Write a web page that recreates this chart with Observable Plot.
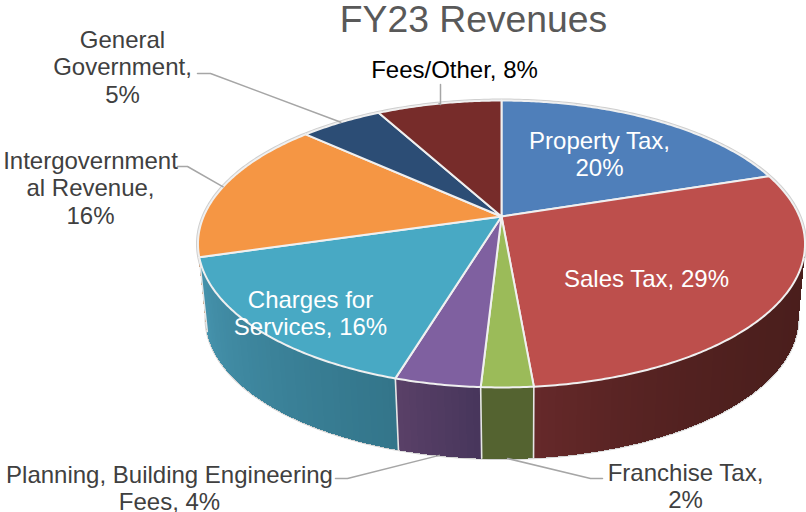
<!DOCTYPE html>
<html>
<head>
<meta charset="utf-8">
<style>html,body{margin:0;padding:0;background:#fff}svg{display:block}</style>
<script src="https://cdn.jsdelivr.net/npm/d3@7"></script>
<script src="https://cdn.jsdelivr.net/npm/@observablehq/plot@0.6"></script>
</head>
<body>
<script>
const categories = ["Property Tax","Sales Tax","Franchise Tax","Planning, Building Engineering Fees","Charges for Services","Intergovernmental Revenue","General Government","Fees/Other"];
const values = [20, 28.6, 2.3, 3.8, 15.8, 16.2, 5.3, 8];
const topColors = ["#4f7fba","#bd4f4c","#9bbb59","#7f60a0","#48a9c4","#f59644","#2c4d75","#772c2a"];
const sideStart = ["#34506f","#4a1e1c","#546330","#47365b","#33758a","#a8632c","#1c3350","#4e1c1a"];
const sideEnd = ["#34506f","#66292a","#546330","#5a4068","#4694ae","#a8632c","#1c3350","#4e1c1a"];
const sideEase = [1,4,1,1,1,1,1,1];
const labels = ["Property Tax,\n20%","Sales Tax, 29%","Franchise Tax,\n2%","Planning, Building Engineering\nFees, 4%","Charges for\nServices, 16%","Intergovernment\nal Revenue,\n16%","General\nGovernment,\n5%","Fees/Other, 8%"];
const labelX = [599,646,685,169,310,90,122,454];
const labelY = [153,278,485,487,312,187,66,69];
const labelColors = ["#fff","#fff","#404040","#404040","#fff","#404040","#404040","#000"];
const leaderElbowX = [null,null,590,347,null,187,210,440];
const leaderElbowY = [null,null,478,478,null,166,73,104];
const leaderEndX = [null,null,602,335,null,177,197,440];
const leaderEndY = [null,null,478,478,null,166,73,84];
const leaderOnBase = [false,false,true,true,false,false,false,false];

const W = 806, H = 512;
const total = d3.sum(values);
const p = 0.1916;
const topDisk = {cx:501, cy:216, a:297.9, b:138.2};
const baseDisk = {cx:501.5, cy:291.3, a:290.5, b:134.8};
const project = (disk, t) => {
  const u = Math.sin(t), v = -Math.cos(t), k = 1 - p * v;
  return [disk.cx + disk.a * u / k, disk.cy + disk.b * v / k];
};
const pct = t => t / total * 2 * Math.PI;
const cum = d3.cumsum(values);
const slices = values.map((v, i) => ({i, t0: pct(i ? cum[i-1] : 0), t1: pct(cum[i])}));

const ringT = d3.range(0, 361).map(d => d * Math.PI / 180);
const rows = (id, pts, extra) => pts.map(([x, y]) => ({id, x, y, ...extra}));

const topHalo = rows("halo", ringT.map(t => project(topDisk, t)), {});
const baseHalo = rows("baseHalo", ringT.filter(t => Math.cos(t) < 0.25).map(t => project(baseDisk, t)), {});

const strips = [];
slices.forEach(s => {
  const n = Math.max(1, Math.ceil((s.t1 - s.t0) / 0.02));
  d3.range(n).forEach(j => {
    const a = s.t0 + (s.t1 - s.t0) * j / n, b = s.t0 + (s.t1 - s.t0) * (j + 1) / n;
    const color = d3.interpolateRgb(sideStart[s.i], sideEnd[s.i])(Math.pow((j + 0.5) / n, sideEase[s.i]));
    strips.push({depth: -Math.cos((a + b) / 2), id: `s${s.i}-${j}`, color,
      pts: [project(topDisk,a), project(topDisk,b), project(baseDisk,b), project(baseDisk,a)]});
  });
});
strips.sort((m, n) => m.depth - n.depth);
const stripRows = strips.flatMap(s => rows(s.id, s.pts, {color: s.color}));

const seams = slices.filter(s => Math.cos(s.t1) < 0.3 && s.i < 5).flatMap(s =>
  rows(`e${s.i}`, [project(topDisk, s.t1), project(baseDisk, s.t1)], {}));

const topRows = slices.flatMap(s => {
  const n = Math.ceil((s.t1 - s.t0) / 0.01);
  const arc = d3.range(n + 1).map(j => project(topDisk, s.t0 + (s.t1 - s.t0) * j / n));
  const c = [topDisk.cx, topDisk.cy];
  return rows(`t${s.i}`, [c, ...arc, c], {color: topColors[s.i]});
});

const leaders = values.flatMap((v, i) => {
  if (leaderEndX[i] == null) return [];
  const s = slices[i];
  const a = project(leaderOnBase[i] ? baseDisk : topDisk, (s.t0 + s.t1) / 2);
  return rows(`l${i}`, [a, [leaderElbowX[i], leaderElbowY[i]], [leaderEndX[i], leaderEndY[i]]], {});
});

const labelRows = labels.map((text, i) => ({text, x: labelX[i], y: labelY[i], color: labelColors[i]}));

const font = "Liberation Sans, Arial, sans-serif";
const chart = Plot.plot({
  width: W, height: H, margin: 0,
  style: {background: "#fff", fontFamily: font},
  x: {domain: [0, W], range: [0, W], axis: null},
  y: {domain: [0, H], range: [0, H], axis: null},
  color: {type: "identity"},
  marks: [
    Plot.line(topHalo, {x: "x", y: "y", z: "id", stroke: "#cfcfcf", strokeWidth: 4}),
    Plot.line(baseHalo, {x: "x", y: "y", z: "id", stroke: "#d2d2d2", strokeWidth: 3}),
    Plot.line(stripRows, {x: "x", y: "y", z: "id", fill: "color", stroke: "color", strokeWidth: 1, shapeRendering: "crispEdges"}),
    Plot.line(seams, {x: "x", y: "y", z: "id", stroke: "#e6e6e6", strokeWidth: 1.6}),
    Plot.line(topRows, {x: "x", y: "y", z: "id", fill: "color", stroke: "#f0f0f0", strokeWidth: 2}),
    Plot.line(leaders, {x: "x", y: "y", z: "id", stroke: "#a6a6a6", strokeWidth: 1.5}),
    Plot.text(labelRows, {x: "x", y: "y", text: "text", fill: "color", fontSize: 24, lineHeight: 1.15, textAnchor: "middle", lineAnchor: "middle"}),
    Plot.text(["FY23 Revenues"], {x: () => 473, y: () => 20, text: d => d, fill: "#595959", fontSize: 37.3, textAnchor: "middle", lineAnchor: "middle"})
  ]
});
document.body.appendChild(chart);
</script>
</body>
</html>
